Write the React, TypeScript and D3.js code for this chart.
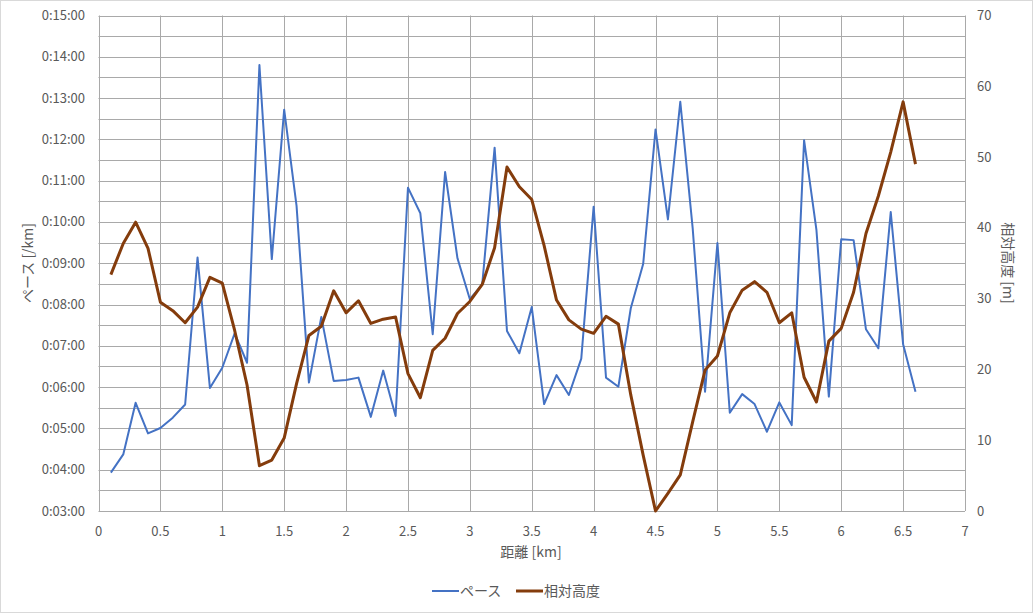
import React, { useRef, useEffect } from 'react';
import * as d3 from 'd3';

// distance [km]
const distances = [
  0.1, 0.2, 0.3, 0.4, 0.5, 0.6, 0.7, 0.8, 0.9, 1.0,
  1.1, 1.2, 1.3, 1.4, 1.5, 1.6, 1.7, 1.8, 1.9, 2.0,
  2.1, 2.2, 2.3, 2.4, 2.5, 2.6, 2.7, 2.8, 2.9, 3.0,
  3.1, 3.2, 3.3, 3.4, 3.5, 3.6, 3.7, 3.8, 3.9, 4.0,
  4.1, 4.2, 4.3, 4.4, 4.5, 4.6, 4.7, 4.8, 4.9, 5.0,
  5.1, 5.2, 5.3, 5.4, 5.5, 5.6, 5.7, 5.8, 5.9, 6.0,
  6.1, 6.2, 6.3, 6.4, 6.5, 6.6,
];

// pace, minutes per km
const pace = [
  3.93, 4.37, 5.62, 4.88, 5.01, 5.26, 5.58, 9.14, 5.98, 6.47,
  7.30, 6.59, 13.80, 9.10, 12.72, 10.39, 6.11, 7.70, 6.15, 6.17,
  6.23, 5.28, 6.40, 5.30, 10.83, 10.21, 7.28, 11.21, 9.12, 8.13,
  8.49, 11.80, 7.36, 6.82, 7.94, 5.59, 6.29, 5.81, 6.69, 10.37,
  6.23, 6.01, 7.91, 8.98, 12.24, 10.06, 12.91, 9.85, 5.89, 9.49,
  5.38, 5.83, 5.59, 4.92, 5.63, 5.08, 11.98, 9.80, 5.77, 9.58,
  9.56, 7.40, 6.94, 10.24, 7.04, 5.89,
];

// relative elevation [m]
const elevation = [
  33.4, 37.8, 40.8, 37.1, 29.5, 28.3, 26.6, 28.8, 33.0, 32.2,
  25.5, 17.8, 6.4, 7.2, 10.3, 18.0, 24.8, 26.1, 31.1, 28.0,
  29.7, 26.5, 27.1, 27.4, 19.4, 16.0, 22.7, 24.4, 27.9, 29.6,
  32.0, 37.2, 48.6, 45.8, 44.0, 37.5, 29.8, 27.0, 25.7, 25.1,
  27.5, 26.4, 16.4, 7.9, 0.0, 2.5, 5.1, 12.6, 19.9, 21.9,
  28.0, 31.2, 32.4, 30.9, 26.6, 28.0, 18.9, 15.4, 24.0, 25.8,
  30.9, 39.2, 44.5, 50.7, 57.8, 49.0,
];

const xTicks = [0, 0.5, 1, 1.5, 2, 2.5, 3, 3.5, 4, 4.5, 5, 5.5, 6, 6.5, 7];
const paceTicks = [3, 4, 5, 6, 7, 8, 9, 10, 11, 12, 13, 14, 15];
const paceGrid = [3, 3.5, 4, 4.5, 5, 5.5, 6, 6.5, 7, 7.5, 8, 8.5, 9, 9.5, 10, 10.5, 11, 11.5, 12, 12.5, 13, 13.5, 14, 14.5, 15];
const elevTicks = [0, 10, 20, 30, 40, 50, 60, 70];

const seriesNames = ['ペース', '相対高度'];

const W = 1033;
const H = 613;
const FONT = '"Noto Sans CJK JP", "Noto Sans", sans-serif';
const TEXT = '#595959';
const GRID = '#a9a9a9';
const BLUE = '#4472C4';
const BROWN = '#843C0C';

const fmtPace = (m: number) => `0:${String(m).padStart(2, '0')}:00`;

const App: React.FC = () => {
  const svgRef = useRef<SVGSVGElement>(null);

  useEffect(() => {
    if (!svgRef.current) return;
    const svg = d3.select(svgRef.current);
    svg.selectAll('*').remove();

    const left = 98.5, right = 965, top = 15.5, bottom = 511;

    const x = d3.scaleLinear().domain([0, 7]).range([left, right]);
    const yL = d3.scaleLinear().domain([3, 15]).range([bottom, top]);
    const yR = d3.scaleLinear().domain([0, 70]).range([bottom, top]);

    // chart frame
    svg.append('rect')
      .attr('x', 0.5).attr('y', 0.5)
      .attr('width', W - 1).attr('height', H - 1)
      .attr('fill', '#fff')
      .attr('stroke', '#d9d9d9');

    // grid
    const grid = svg.append('g').attr('stroke', GRID).attr('stroke-width', 1);
    grid.selectAll('.hg').data(paceGrid).enter().append('line')
      .attr('x1', left).attr('x2', right)
      .attr('y1', d => Math.round(yL(d)) + 0.5)
      .attr('y2', d => Math.round(yL(d)) + 0.5);
    grid.selectAll('.vg').data(xTicks).enter().append('line')
      .attr('y1', top).attr('y2', bottom)
      .attr('x1', d => Math.round(x(d)) + 0.5)
      .attr('x2', d => Math.round(x(d)) + 0.5);

    // tick labels
    const lab = svg.append('g')
      .attr('font-family', FONT).attr('font-size', 13).attr('fill', TEXT);
    lab.selectAll('.xl').data(xTicks).enter().append('text')
      .attr('x', d => x(d)).attr('y', 536)
      .attr('text-anchor', 'middle')
      .text(d => String(d));
    lab.selectAll('.yl').data(paceTicks).enter().append('text')
      .attr('x', 85).attr('y', d => yL(d) + 4.5)
      .attr('text-anchor', 'end')
      .text(d => fmtPace(d));
    lab.selectAll('.yr').data(elevTicks).enter().append('text')
      .attr('x', 977).attr('y', d => yR(d) + 4.5)
      .attr('text-anchor', 'start')
      .text(d => String(d));

    // axis titles
    const titles = svg.append('g')
      .attr('font-family', FONT).attr('font-size', 14).attr('fill', TEXT)
      .attr('text-anchor', 'middle');
    titles.append('text')
      .attr('x', 531).attr('y', 557)
      .text('距離 [km]');
    titles.append('text')
      .attr('transform', 'translate(33,263) rotate(-90)')
      .text('ペース [/km]');
    titles.append('text')
      .attr('transform', 'translate(1003,263) rotate(90)')
      .text('相対高度 [m]');

    // series
    const pacePts = distances.map((d, i) => [x(d), yL(pace[i])] as [number, number]);
    const elevPts = distances.map((d, i) => [x(d), yR(elevation[i])] as [number, number]);
    const line = d3.line();

    svg.append('path')
      .attr('d', line(pacePts))
      .attr('fill', 'none')
      .attr('stroke', BLUE)
      .attr('stroke-width', 2)
      .attr('stroke-linejoin', 'round');

    svg.append('path')
      .attr('d', line(elevPts))
      .attr('fill', 'none')
      .attr('stroke', BROWN)
      .attr('stroke-width', 3)
      .attr('stroke-linejoin', 'round');

    // legend
    const legend = svg.append('g')
      .attr('font-family', FONT).attr('font-size', 14).attr('fill', TEXT);
    const items = [
      { name: seriesNames[0], color: BLUE, w: 2, x0: 432 },
      { name: seriesNames[1], color: BROWN, w: 3, x0: 516 },
    ];
    items.forEach(it => {
      legend.append('line')
        .attr('x1', it.x0).attr('x2', it.x0 + 27)
        .attr('y1', 591).attr('y2', 591)
        .attr('stroke', it.color).attr('stroke-width', it.w);
      legend.append('text')
        .attr('x', it.x0 + 28).attr('y', 596)
        .text(it.name);
    });
  }, []);

  return (
    <svg
      ref={svgRef}
      width={W}
      height={H}
      style={{ position: 'absolute', left: 0, top: 0, display: 'block' }}
    />
  );
};

export default App;
